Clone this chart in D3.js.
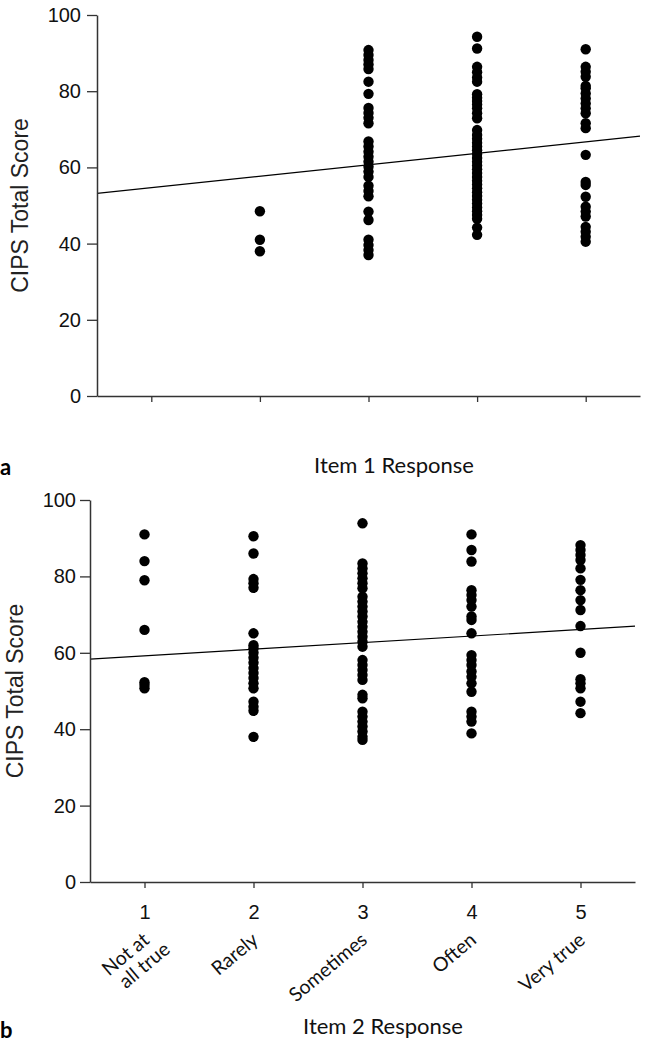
<!DOCTYPE html>
<html>
<head>
<meta charset="utf-8">
<script src="https://cdn.jsdelivr.net/npm/d3@7"></script>
<style>
  body { margin: 0; background: #fff; }
  svg { display: block; }
  .num { font-family: "Liberation Sans", Arial, sans-serif; }
  .cal { font-family: Lato, "Open Sans", sans-serif; }
</style>
</head>
<body>
<svg width="646" height="1043"></svg>
<script>
// response levels (x) and their labels for panel b
var levels = [1, 2, 3, 4, 5];
var levelNames = [["Not at", "all true"], ["Rarely"], ["Sometimes"], ["Often"], ["Very true"]];
var yTicks = [0, 20, 40, 60, 80, 100];

// panel a: CIPS total score by Item 1 response
var item1_r1 = [];
var item1_r2 = [48.5, 41, 38];
var item1_r3 = [90.8, 89.5, 88.2, 87, 85.8, 82.5, 79.3, 75.6, 74.3, 73, 71.6, 66.8, 65.5, 64.1, 62.8, 61.5,
                60.2, 58.9, 57.5, 55.2, 53.8, 52.4, 48.4, 46.2, 41, 39.6, 38.3, 37];
var item1_r4 = [94.3, 91.2, 86.4, 85, 83.6, 82.5, 79.2, 78.3, 77.4, 76.5, 75.5, 74.2, 72.9,
                69.8, 68.5, 67.5, 66.5, 65.5, 64.5, 63.5, 62.5, 61.5, 60.5, 59.5, 58.5, 57.5,
                56.5, 55.5, 54.5, 53.5, 52.5, 51.5, 50.5, 49.5, 48.5, 47.5, 46.5, 44.2, 42.3];
var item1_r5 = [91, 86.4, 85.1, 83.8, 81.4, 80.8, 79.4, 78.1, 76.8, 75.5, 74.2, 71.6, 70.3, 63.3,
                56.2, 55.4, 52.3, 49.7, 48.4, 47.1, 44.4, 43.1, 41.8, 40.5];
var fit1 = [51.7, 3.0];   // intercept, slope

// panel b: CIPS total score by Item 2 response
var item2_r1 = [91, 84, 79, 66, 52.3, 51.6, 50.7];
var item2_r2 = [90.5, 86, 79.3, 78.2, 77, 65.1, 62, 61.2, 60, 58.7, 57.4, 56, 54.7, 53.4, 52, 50.7,
                47.2, 45.9, 44.8, 38];
var item2_r3 = [93.9, 83.4, 82.1, 80.8, 79.5, 78.2, 76.9, 74.7, 73.4, 72.1, 70.8, 69.5, 68.1, 66.8,
                65.5, 64.2, 62.9, 61.6, 58.1, 56.8, 55.5, 54.2, 52.9, 49, 48.1, 44.6, 43.3, 42, 40.7,
                39.4, 38, 37.2];
var item2_r4 = [91, 86.9, 83.9, 76.4, 75.1, 73.8, 72.1, 69.5, 68.6, 65.1, 59.4, 58.1, 56.8, 55.1,
                53.7, 52, 49.8, 44.6, 43.3, 42, 38.9];
var item2_r5 = [88.2, 86.9, 85.6, 84.3, 82.1, 79.1, 76.4, 73.8, 71.2, 67, 60, 53.1, 52, 50.7, 47.2, 44.2];
var fit2 = [57.5, 1.72];

var svg = d3.select("svg");

function drawPanel(cfg) {
    var x = d3.scaleLinear().domain([0.5, 5.5]).range([cfg.left, cfg.right]);
    var y = d3.scaleLinear().domain([0, 100]).range([cfg.bottom, cfg.top]);
    var g = svg.append("g");

    // points
    var pts = [];
    cfg.groups.forEach(function (vals, i) {
        vals.forEach(function (v) { pts.push({ x: levels[i], y: v }); });
    });
    g.selectAll("circle").data(pts).enter().append("circle")
        .attr("cx", function (d) { return x(d.x); })
        .attr("cy", function (d) { return y(d.y); })
        .attr("r", 5.2)
        .attr("fill", "#000");

    // regression line
    var ends = [0.5, 5.5];
    g.append("path")
        .attr("d", d3.line()
            .x(function (d) { return x(d); })
            .y(function (d) { return y(cfg.fit[0] + cfg.fit[1] * d); })(ends))
        .attr("stroke", "#000").attr("stroke-width", 1.2).attr("fill", "none");

    // y axis
    var ya = g.append("g").attr("transform", "translate(" + cfg.left + ",0)")
        .call(d3.axisLeft(y).tickValues(yTicks).tickSize(10).tickPadding(cfg.yPad).tickSizeOuter(0));
    ya.selectAll("text").attr("class", "num").style("font-size", "20px").attr("fill", "#111");

    // x axis
    var xa = g.append("g").attr("transform", "translate(0," + cfg.bottom + ")")
        .call(d3.axisBottom(x).tickValues(levels).tickSize(6).tickSizeOuter(0)
            .tickFormat(cfg.xNumbers ? d3.format("d") : ""));
    xa.selectAll("text").attr("class", "num").style("font-size", "20px").attr("fill", "#111")
        .attr("dy", "1.4em");

    g.selectAll(".domain").attr("stroke", "#333").attr("stroke-width", 1.5);
    g.selectAll(".tick line").attr("stroke", "#333").attr("stroke-width", 1.3);

    // y title
    g.append("text").attr("class", "num")
        .attr("transform", "translate(" + cfg.yTitleX + "," + ((cfg.top + cfg.bottom) / 2) + ") rotate(-90)")
        .attr("text-anchor", "middle")
        .style("font-size", "23px").attr("fill", "#222")
        .text("CIPS Total Score");

    // x title + panel letter
    g.append("text").attr("class", "cal")
        .attr("x", cfg.xTitleX).attr("y", cfg.xTitleY)
        .attr("text-anchor", "middle").style("font-size", "22px").attr("fill", "#111")
        .text(cfg.xTitle);
    g.append("text").attr("class", "cal")
        .attr("x", 0).attr("y", cfg.xTitleY + cfg.letterDy)
        .style("font-size", "22px").style("font-weight", "bold").attr("fill", "#000")
        .text(cfg.letter);

    return { x: x, y: y, g: g };
}

drawPanel({
    left: 97, right: 640, top: 15, bottom: 396, yPad: 6, yTitleX: 28,
    groups: [item1_r1, item1_r2, item1_r3, item1_r4, item1_r5], fit: fit1,
    xNumbers: false, xTitle: "Item 1 Response", xTitleX: 394, xTitleY: 473, letter: "a", letterDy: 2
});

var pb = drawPanel({
    left: 90, right: 635, top: 500, bottom: 882, yPad: 4, yTitleX: 23,
    groups: [item2_r1, item2_r2, item2_r3, item2_r4, item2_r5], fit: fit2,
    xNumbers: true, xTitle: "Item 2 Response", xTitleX: 383, xTitleY: 1034, letter: "b", letterDy: 4
});

// rotated category names under panel b
var lab = pb.g.selectAll(".cat").data(levels).enter().append("text")
    .attr("class", "cal")
    .attr("text-anchor", "end")
    .style("font-size", "19.5px").attr("fill", "#111")
    .attr("transform", function (d) {
        return "translate(" + (pb.x(d) + 6) + "," + (882 + 60) + ") rotate(-40)";
    });
lab.each(function (d, i) {
    var t = d3.select(this);
    levelNames[i].forEach(function (s, k) {
        t.append("tspan").attr("x", k * 10).attr("dy", k === 0 ? 0 : "1.05em").text(s);
    });
});
</script>
</body>
</html>
